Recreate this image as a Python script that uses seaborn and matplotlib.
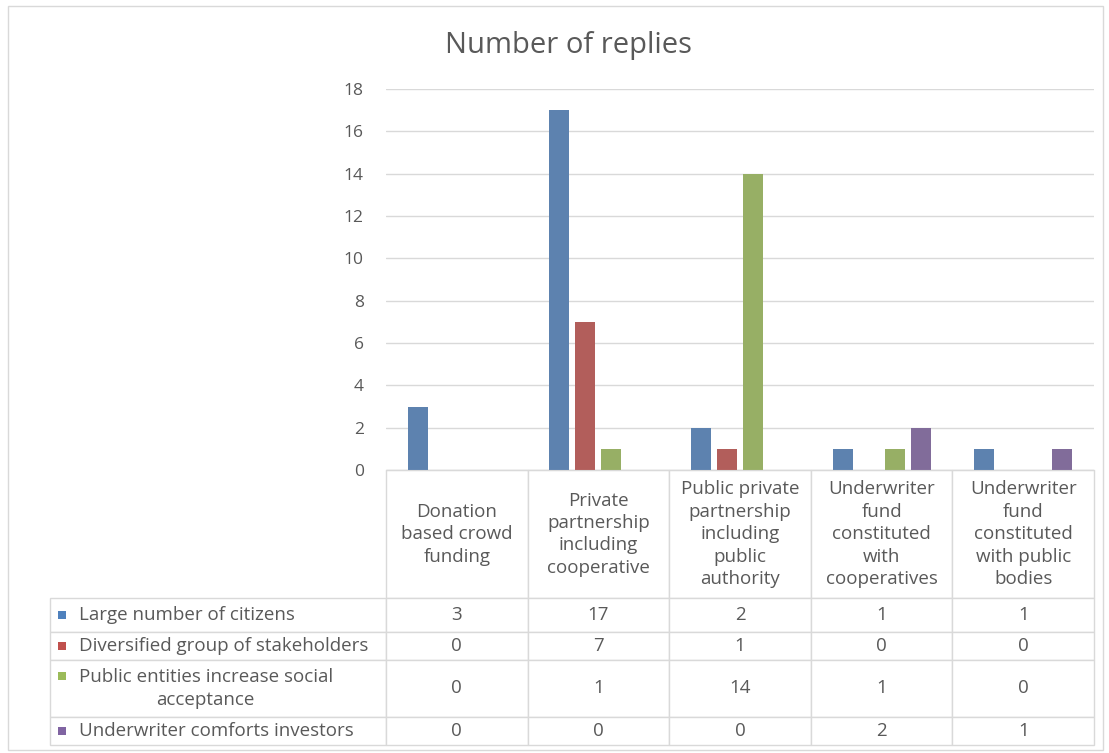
import pandas as pd
import matplotlib.pyplot as plt
import seaborn as sns
from matplotlib.patches import Rectangle
from matplotlib.table import Table

# --- data ---
CATEGORIES = [
    "Donation\nbased crowd\nfunding",
    "Private\npartnership\nincluding\ncooperative",
    "Public private\npartnership\nincluding\npublic\nauthority",
    "Underwriter\nfund\nconstituted\nwith\ncooperatives",
    "Underwriter\nfund\nconstituted\nwith public\nbodies",
]
SERIES = [
    "Large number of citizens",
    "Diversified group of stakeholders",
    "Public entities increase social\nacceptance",
    "Underwriter comforts investors",
]
LARGE_CITIZENS = [3, 17, 2, 1, 1]
DIVERSIFIED = [0, 7, 1, 0, 0]
PUBLIC_ENTITIES = [0, 1, 14, 1, 0]
UNDERWRITER = [0, 0, 0, 2, 1]
Y_TICKS = [0, 2, 4, 6, 8, 10, 12, 14, 16, 18]
TITLE = "Number of replies"

# --- style ---
COLORS = ["#4F81BD", "#C0504D", "#9BBB59", "#8064A2"]
TEXT_COLOR = "#595959"
GRID_COLOR = "#D9D9D9"
FIG_W, FIG_H = 1109, 753
DPI = 100
TABLE_FONT = 13.5

# pixel layout of the plot area / table
AX_L, AX_R, AX_T, AX_B = 386, 1094, 89, 470
TAB_L, TAB_B = 50, 745
LABEL_COL_W = AX_L - TAB_L
ROW_H = [128, 33, 28, 57, 28]


def style_cell(cell):
    cell.set_edgecolor(GRID_COLOR)
    cell.set_linewidth(1)
    txt = cell.get_text()
    txt.set_color(TEXT_COLOR)
    txt.set_fontsize(TABLE_FONT)
    txt.set_multialignment("center")
    txt.set_linespacing(1.32)


def main():
    sns.set_style("white")
    plt.rcParams["font.family"] = ["Open Sans", "DejaVu Sans"]

    values = [LARGE_CITIZENS, DIVERSIFIED, PUBLIC_ENTITIES, UNDERWRITER]
    rows = []
    for s, vals in zip(SERIES, values):
        for c, v in zip(CATEGORIES, vals):
            rows.append({"category": c, "series": s, "value": v})
    df = pd.DataFrame(rows)

    fig = plt.figure(figsize=(FIG_W / DPI, FIG_H / DPI), dpi=DPI)
    ax_px_w = AX_R - AX_L
    ax_px_h = AX_B - AX_T
    ax = fig.add_axes([AX_L / FIG_W, 1 - AX_B / FIG_H, ax_px_w / FIG_W, ax_px_h / FIG_H])

    sns.barplot(
        data=df, x="category", y="value", hue="series",
        order=CATEGORIES, hue_order=SERIES, palette=COLORS,
        width=0.735, gap=0.23, linewidth=0, legend=False, ax=ax,
    )

    ax.set_ylim(0, 18)
    ax.set_yticks(Y_TICKS)
    ax.tick_params(axis="y", length=0, pad=16, labelsize=12.5, labelcolor=TEXT_COLOR)
    ax.set_xticks([])
    ax.set_xlabel("")
    ax.set_ylabel("")
    ax.yaxis.grid(True, color=GRID_COLOR, linewidth=1)
    ax.set_axisbelow(True)
    for side in ["left", "right", "top"]:
        ax.spines[side].set_visible(False)
    ax.spines["bottom"].set_color(GRID_COLOR)

    # data table under the plot; bbox covers the value columns only,
    # the row-label column hangs off to the left with the same scale
    bbox = [0, -(TAB_B - AX_B) / ax_px_h, 1, (TAB_B - AX_B) / ax_px_h]
    tab = Table(ax, bbox=bbox)
    col_w = ax_px_w / len(CATEGORIES)
    for j, cat in enumerate(CATEGORIES):
        style_cell(tab.add_cell(0, j, col_w, ROW_H[0], text=cat, loc="center"))
    for i, (name, vals) in enumerate(zip(SERIES, values), start=1):
        cell = tab.add_cell(i, -1, LABEL_COL_W, ROW_H[i], text=name, loc="left")
        cell.PAD = 0.085
        style_cell(cell)
        for j, v in enumerate(vals):
            style_cell(tab.add_cell(i, j, col_w, ROW_H[i], text=str(v), loc="center"))
    tab.auto_set_font_size(False)
    ax.add_table(tab)

    # legend keys in the row labels
    fig.canvas.draw()
    key_w = 8 / ax_px_w
    key_h = 8 / ax_px_h
    line_px = 24
    x0 = (58 - AX_L) / ax_px_w
    for i, color in enumerate(COLORS):
        cell = tab[(i + 1, -1)]
        n_lines = SERIES[i].count("\n") + 1
        yc = cell.get_y() + cell.get_height() / 2 + (n_lines - 1) / 2 * line_px / ax_px_h
        ax.add_patch(Rectangle((x0, yc - key_h / 2), key_w, key_h, transform=ax.transAxes,
                               facecolor=color, edgecolor="none", clip_on=False))

    fig.text(568 / FIG_W, 1 - 45 / FIG_H, TITLE, ha="center", va="center",
             fontsize=21, color=TEXT_COLOR)

    # chart area frame
    fig.patches.append(Rectangle((8 / FIG_W, 1 - 750 / FIG_H), 1095 / FIG_W, 744 / FIG_H,
                                 transform=fig.transFigure, fill=False,
                                 edgecolor=GRID_COLOR, linewidth=1))

    fig.savefig("out.png", dpi=DPI)
    plt.close(fig)


if __name__ == "__main__":
    main()
